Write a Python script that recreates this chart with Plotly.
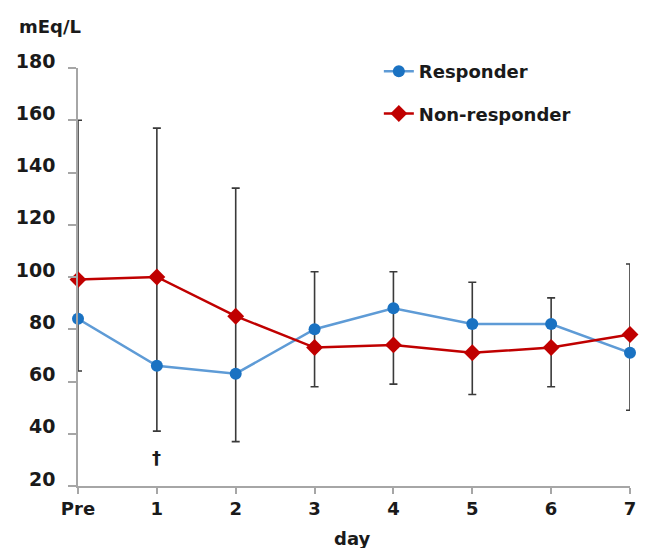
import plotly.graph_objects as go

# Serum values (mEq/L) by day
days = ["Pre", "1", "2", "3", "4", "5", "6", "7"]
responder = [84, 66, 63, 80, 88, 82, 82, 71]
non_responder = [99, 100, 85, 73, 74, 71, 73, 78]
# Extent of the SD bars at each day
sd_high = [160, 157, 134, 102, 102, 98, 92, 105]
sd_low = [64, 41, 37, 58, 59, 55, 58, 49]
y_ticks = [20, 40, 60, 80, 100, 120, 140, 160, 180]

x = list(range(len(days)))
FONT = "DejaVu Sans"
TXT = "#1a1a1a"

fig = go.Figure()

# SD bars (behind the series lines)
fig.add_trace(go.Scatter(
    x=x, y=non_responder, mode="markers",
    marker=dict(size=1, opacity=0),
    error_y=dict(type="data", symmetric=False,
                 array=[h - v for h, v in zip(sd_high, non_responder)],
                 arrayminus=[v - l for v, l in zip(non_responder, sd_low)],
                 color="#3a3a3a", thickness=1.6, width=4),
    showlegend=False, hoverinfo="skip", cliponaxis=False,
))

fig.add_trace(go.Scatter(
    x=x, y=responder, mode="lines+markers", name="Responder",
    line=dict(color="#5e9bd6", width=2.5),
    marker=dict(symbol="circle", size=12, color="#1a72c2"),
    cliponaxis=False, legendgroup="r",
))
fig.add_trace(go.Scatter(
    x=x, y=non_responder, mode="lines+markers", name="Non-responder",
    line=dict(color="#c00000", width=2.5),
    marker=dict(symbol="diamond", size=13, color="#c00000"),
    cliponaxis=False, legendgroup="nr",
))

# dagger marking day 1
fig.add_annotation(x=1, y=31, text="†", showarrow=False,
                   font=dict(family=FONT, size=18, color=TXT))
# unit label
fig.add_annotation(xref="paper", yref="paper", x=-0.111, y=1.10,
                   xanchor="left", yanchor="middle", text="<b>mEq/L</b>",
                   showarrow=False, font=dict(family=FONT, size=18, color=TXT))
# x-axis title
fig.add_annotation(xref="paper", yref="paper", x=0.497, y=-0.125,
                   xanchor="center", yanchor="middle", text="<b>day</b>",
                   showarrow=False, font=dict(family=FONT, size=18, color=TXT))

fig.update_layout(
    width=648, height=548,
    margin=dict(l=78, r=18, t=68, b=62),
    paper_bgcolor="white", plot_bgcolor="white",
    font=dict(family=FONT, size=18, color=TXT, weight="bold"),
    showlegend=True,
    legend=dict(x=0.545, y=1.036, xanchor="left", yanchor="top",
                bgcolor="rgba(0,0,0,0)", tracegroupgap=16,
                traceorder="grouped",
                font=dict(family=FONT, size=18, color=TXT, weight="bold")),
    xaxis=dict(range=[0, 7], tickmode="array", tickvals=x, ticktext=days,
               showgrid=False, zeroline=False, showline=True,
               linecolor="#a6a6a6", linewidth=1.5,
               ticks="outside", ticklen=6, tickcolor="#a6a6a6", tickwidth=1.5,
               tickfont=dict(family=FONT, size=18, color=TXT, weight="bold")),
    yaxis=dict(range=[20, 180], tickmode="array", tickvals=y_ticks,
               showgrid=False, zeroline=False, showline=True,
               linecolor="#a6a6a6", linewidth=1.5,
               ticks="outside", ticklen=8, tickcolor="#a6a6a6", tickwidth=1.5,
               ticklabelshift=-7, ticklabelstandoff=9,
               tickfont=dict(family=FONT, size=19, color=TXT, weight="bold")),
)

fig.write_html("out.html")
